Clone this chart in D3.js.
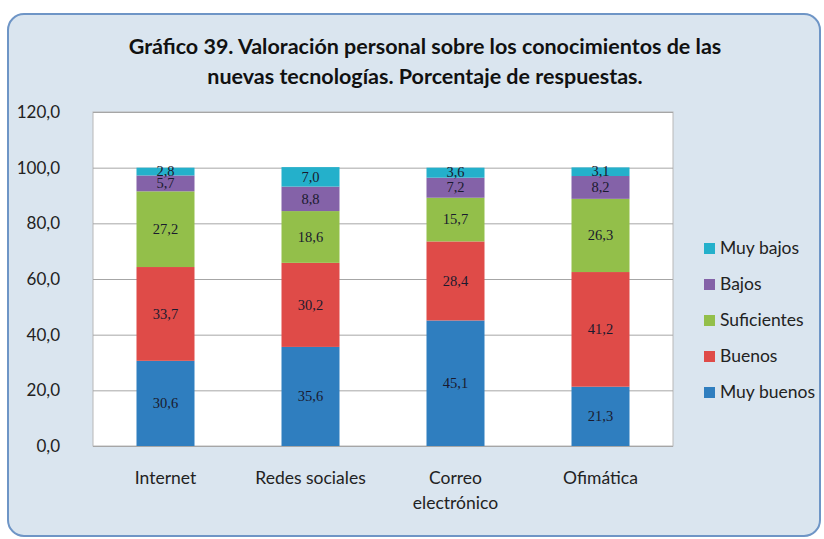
<!DOCTYPE html>
<html>
<head>
<meta charset="utf-8">
<script src="https://cdn.jsdelivr.net/npm/d3@7"></script>
<style>
  body { margin: 0; background: #fff; }
  svg { display: block; }
</style>
</head>
<body>
<svg id="graph" width="824" height="539"></svg>
<script>
// categorias y series (de abajo arriba)
const categorias = ['Internet', 'Redes sociales', 'Correo electrónico', 'Ofimática'];
const series = ['Muy buenos', 'Buenos', 'Suficientes', 'Bajos', 'Muy bajos'];
const muyBuenos  = [30.6, 35.6, 45.1, 21.3];
const buenos     = [33.7, 30.2, 28.4, 41.2];
const suficientes = [27.2, 18.6, 15.7, 26.3];
const bajos      = [5.7, 8.8, 7.2, 8.2];
const muyBajos   = [2.8, 7.0, 3.6, 3.1];
const ticksY = [0, 20, 40, 60, 80, 100, 120];
const colores = ['#2f7ebf', '#df4b48', '#93bf4a', '#8462a8', '#24b0cb'];

const valores = [muyBuenos, buenos, suficientes, bajos, muyBajos];
const data = categorias.map((c, i) => {
  const row = { cat: c };
  series.forEach((s, j) => row[s] = valores[j][i]);
  return row;
});

const svg = d3.select('#graph');
const fmt = v => d3.format('.1f')(v).replace('.', ',');
const fuente = 'Lato, "Open Sans", sans-serif';

// caja de fondo
svg.append('rect')
  .attr('x', 8).attr('y', 14)
  .attr('width', 812).attr('height', 522)
  .attr('rx', 16)
  .attr('fill', '#dae5ef')
  .attr('stroke', '#6e95c6')
  .attr('stroke-width', 2);

// titulo
const titulo = svg.append('text')
  .attr('text-anchor', 'middle')
  .attr('font-family', fuente)
  .attr('font-weight', 'bold')
  .attr('font-size', '21.5px')
  .attr('fill', '#111');
titulo.append('tspan').attr('x', 425).attr('y', 54)
  .text('Gráfico 39. Valoración personal sobre los conocimientos de las');
titulo.append('tspan').attr('x', 425).attr('y', 84)
  .text('nuevas tecnologías. Porcentaje de respuestas.');

const margin = { left: 93, top: 112 };
const width = 580;
const height = 334;

const chart = svg.append('g')
  .attr('transform', `translate(${margin.left}, ${margin.top})`);

chart.append('rect')
  .attr('width', width).attr('height', height)
  .attr('fill', '#fff')
  .attr('stroke', '#b8b8b8');

const yScale = d3.scaleLinear().domain([0, 120]).range([height, 0]);
const xScale = d3.scaleBand().domain(categorias).range([0, width]).paddingInner(0.6).paddingOuter(0.3);

// rejilla
chart.append('g')
  .call(d3.axisLeft(yScale).tickValues(ticksY).tickSize(-width).tickFormat(''))
  .call(g => g.select('.domain').remove())
  .call(g => g.selectAll('line').attr('stroke', '#a6a6a6'));

// etiquetas eje Y
chart.append('g')
  .selectAll('text')
  .data(ticksY)
  .join('text')
  .attr('x', -33)
  .attr('y', d => yScale(d))
  .attr('dy', '0.35em')
  .attr('text-anchor', 'end')
  .attr('font-family', fuente)
  .attr('font-size', '17px')
  .attr('fill', '#222')
  .text(d => fmt(d));

const stack = d3.stack().keys(series)(data);

const capas = chart.selectAll('g.capa')
  .data(stack)
  .join('g')
  .attr('class', 'capa')
  .attr('fill', (d, i) => colores[i]);

capas.selectAll('rect')
  .data(d => d)
  .join('rect')
  .attr('x', d => xScale(d.data.cat))
  .attr('y', d => yScale(d[1]))
  .attr('width', xScale.bandwidth())
  .attr('height', d => yScale(d[0]) - yScale(d[1]));

// etiquetas de valor
capas.selectAll('text')
  .data(d => d.map(v => ({ v, key: d.key })))
  .join('text')
  .attr('x', d => xScale(d.v.data.cat) + xScale.bandwidth() / 2)
  .attr('y', d => yScale((d.v[0] + d.v[1]) / 2))
  .attr('dy', '0.33em')
  .attr('text-anchor', 'middle')
  .attr('font-family', '"Liberation Serif", serif')
  .attr('font-size', '14.5px')
  .attr('fill', '#1a1a2e')
  .text(d => fmt(d.v.data[d.key]));

// etiquetas categorias
const cats = chart.append('g')
  .selectAll('text')
  .data(categorias)
  .join('text')
  .attr('text-anchor', 'middle')
  .attr('font-family', fuente)
  .attr('font-size', '17.5px')
  .attr('fill', '#222');
cats.each(function(d) {
  const partes = d === 'Correo electrónico' ? ['Correo', 'electrónico'] : [d];
  partes.forEach((p, i) => {
    d3.select(this).append('tspan')
      .attr('x', xScale(d) + xScale.bandwidth() / 2)
      .attr('y', height + 38 + i * 25)
      .text(p);
  });
});

// leyenda (orden inverso)
const leyenda = svg.append('g')
  .attr('transform', 'translate(704, 248)');
const items = leyenda.selectAll('g')
  .data(series.slice().reverse())
  .join('g')
  .attr('transform', (d, i) => `translate(0, ${i * 36})`);
items.append('rect')
  .attr('x', 0).attr('y', -5)
  .attr('width', 11).attr('height', 11)
  .attr('fill', d => colores[series.indexOf(d)]);
items.append('text')
  .attr('x', 16)
  .attr('dy', '0.35em')
  .attr('font-family', fuente)
  .attr('font-size', '17.5px')
  .attr('fill', '#222')
  .text(d => d);
</script>
</body>
</html>
